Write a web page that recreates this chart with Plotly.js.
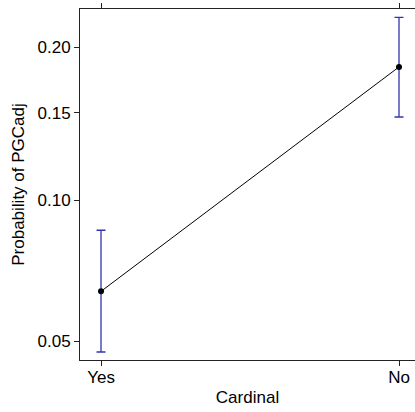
<!DOCTYPE html>
<html>
<head>
<meta charset="utf-8">
<script src="https://cdn.plot.ly/plotly-3.0.1.min.js"></script>
<style>html,body{margin:0;padding:0;background:#fff;overflow:hidden;}</style>
</head>
<body>
<div id="chart" style="width:415px;height:412px;"></div>
<script>
const categories = ["Yes", "No"];
const fit = [0.0642, 0.1838];
const lower = [0.0474, 0.1473];
const upper = [0.0866, 0.2265];
const tickProbs = [0.05, 0.10, 0.15, 0.20];
const tickLabels = ["0.05", "0.10", "0.15", "0.20"];

const logit = p => Math.log(p / (1 - p));
const yFit = fit.map(logit);
const errPlus = upper.map((u, i) => logit(u) - yFit[i]);
const errMinus = lower.map((l, i) => yFit[i] - logit(l));

const trace = {
  x: categories,
  y: yFit,
  type: "scatter",
  mode: "lines+markers",
  line: {color: "#000000", width: 1},
  marker: {color: "#000000", size: 6},
  error_y: {
    type: "data",
    symmetric: false,
    array: errPlus,
    arrayminus: errMinus,
    color: "#3434b0",
    thickness: 1.3,
    width: 4.5
  },
  hoverinfo: "skip"
};

const font = {family: "Liberation Sans, Arial, sans-serif", size: 17, color: "#000000"};

const layout = {
  width: 415,
  height: 412,
  margin: {l: 80, r: 0, t: 9, b: 52, pad: 0},
  paper_bgcolor: "#ffffff",
  plot_bgcolor: "#ffffff",
  showlegend: false,
  font: font,
  xaxis: {
    type: "category",
    range: [-0.0705, 1.0537],
    showgrid: false,
    zeroline: false,
    showline: true,
    linecolor: "#222222",
    linewidth: 1,
    mirror: "ticks",
    ticks: "outside",
    ticklen: 5,
    tickcolor: "#222222",
    tickfont: font,
    ticklabelstandoff: -3,
    title: {text: "Cardinal", font: font, standoff: 4}
  },
  yaxis: {
    range: [-3.043, -1.184],
    tickmode: "array",
    tickvals: tickProbs.map(logit),
    ticktext: tickLabels,
    showgrid: false,
    zeroline: false,
    showline: true,
    linecolor: "#222222",
    linewidth: 1,
    ticks: "outside",
    ticklen: 5,
    tickcolor: "#222222",
    tickfont: font,
    title: {text: "Probability of PGCadj", font: font, standoff: 8}
  }
};

Plotly.newPlot("chart", [trace], layout, {displayModeBar: false, staticPlot: true});
</script>
</body>
</html>
